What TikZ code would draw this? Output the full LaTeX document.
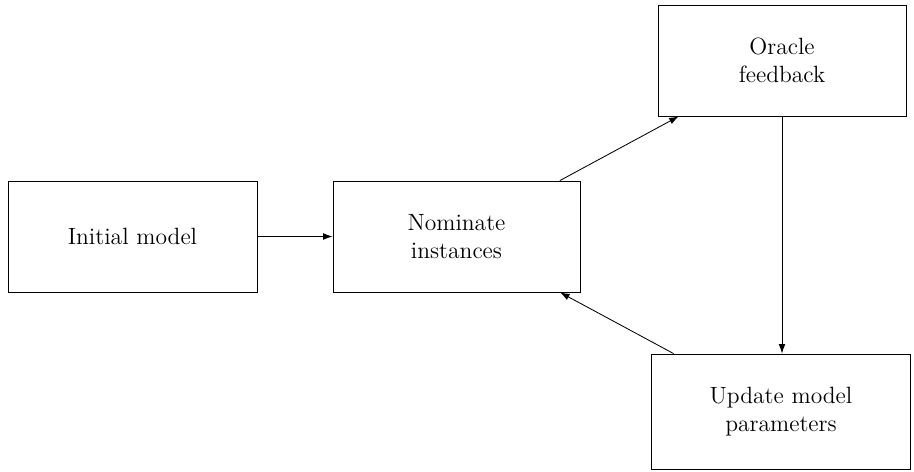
\documentclass[tikz,border=0pt]{standalone}
\usetikzlibrary{arrows.meta}
\begin{document}
\begin{tikzpicture}[x=0.476pt,y=-0.476pt,
  box/.style={draw,rectangle,align=center,inner sep=0pt,line width=0.4pt,font=\fontsize{11.2pt}{13.2pt}\selectfont},
  conn/.style={-{Latex[length=4.5pt,width=3.2pt]},line width=0.4pt}]
\useasboundingbox (0,0) rectangle (914,472);
\node[box,minimum width=249*0.476pt,minimum height=111*0.476pt] (init) at (132.5,236.5) {Initial model};
\node[box,minimum width=247*0.476pt,minimum height=111*0.476pt] (nom) at (456.5,236.5) {Nominate\\instances};
\node[box,minimum width=248*0.476pt,minimum height=111*0.476pt] (orc) at (782,60.5) {Oracle\\feedback};
\node[box,minimum width=259*0.476pt,minimum height=115*0.476pt] (upd) at (781,411.5) {Update model\\parameters};
\draw[conn] (init) -- (nom);
\draw[conn] (nom) -- (orc);
\draw[conn] (orc.south) -- (orc.south |- upd.north);
\draw[conn] (upd) -- (nom);
\end{tikzpicture}
\end{document}
